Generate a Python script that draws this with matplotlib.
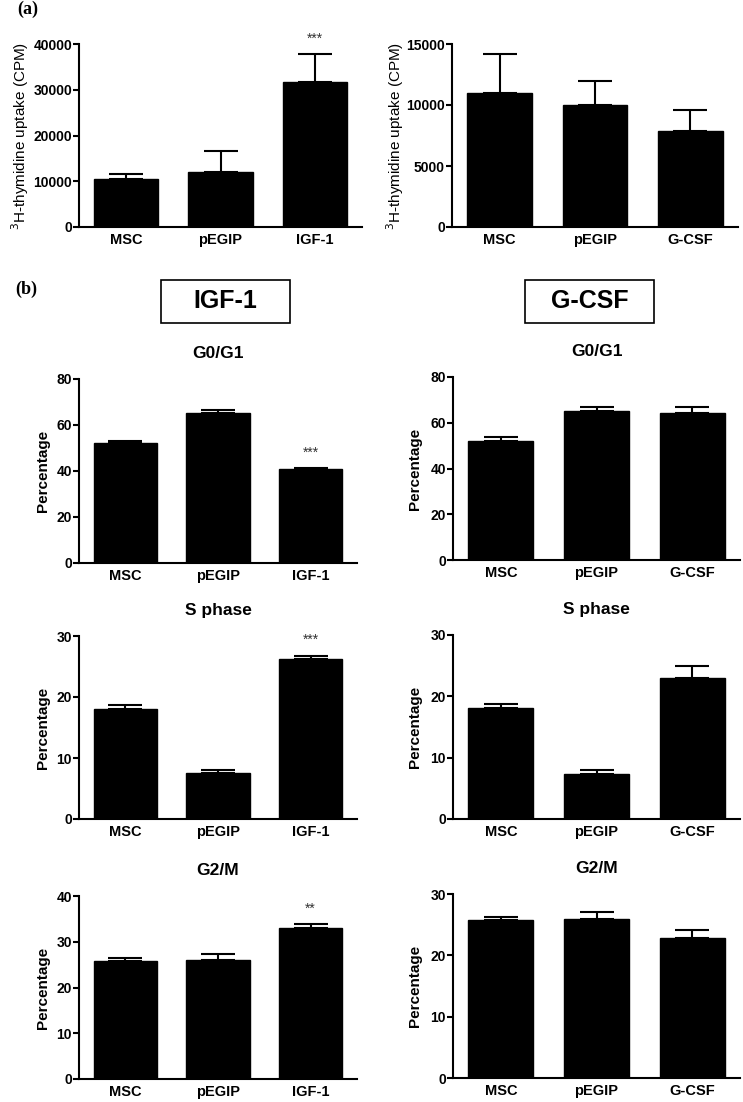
import numpy as np
import matplotlib
matplotlib.use('Agg')
import matplotlib.pyplot as plt
from matplotlib.patches import Rectangle

plt.rcParams['font.family'] = ['Liberation Sans', 'DejaVu Sans']

W, H = 743, 1102

# groups
groups_igf = ['MSC', 'pEGIP', 'IGF-1']
groups_gcsf = ['MSC', 'pEGIP', 'G-CSF']

# (a) 3H-thymidine uptake (CPM): mean and SD
cpm_igf = [10400, 12000, 31800]
cpm_igf_err = [1200, 4700, 6000]
cpm_gcsf = [10950, 9970, 7900]
cpm_gcsf_err = [3250, 2020, 1700]

# (b) cell cycle percentages
g0g1_igf = [52.2, 65.2, 40.9]
g0g1_igf_err = [0.8, 1.5, 0.5]
g0g1_gcsf = [52.1, 65.2, 64.4]
g0g1_gcsf_err = [1.5, 1.9, 2.3]

s_igf = [18.1, 7.5, 26.3]
s_igf_err = [0.6, 0.6, 0.5]
s_gcsf = [18.1, 7.4, 23.0]
s_gcsf_err = [0.6, 0.6, 1.9]

g2m_igf = [25.7, 26.0, 33.0]
g2m_igf_err = [0.7, 1.3, 0.8]
g2m_gcsf = [25.7, 26.0, 22.8]
g2m_gcsf_err = [0.6, 1.1, 1.4]

fig = plt.figure(figsize=(W / 100, H / 100), dpi=100)


def add_ax(l, t, r, b):
    return fig.add_axes([l / W, 1 - b / H, (r - l) / W, (b - t) / H])


def draw(ax, labels, vals, errs, ymax, ystep, title=None,
         ylabel='Percentage', ylab_x=None, stars=None, box=None):
    x = np.arange(len(vals))
    ax.bar(x, vals, width=0.68, color='black', edgecolor='black')
    ax.errorbar(x, vals, yerr=[np.zeros(len(errs)), errs], fmt='none',
                ecolor='black', elinewidth=1.5, capsize=12, capthick=1.5)
    ax.set_xlim(-0.5, 2.5)
    ax.set_ylim(0, ymax)
    ax.set_yticks(np.arange(0, ymax + 1, ystep))
    ax.set_xticks(x)
    ax.set_xticklabels(labels, fontweight='bold', fontsize=10.5)
    for lab in ax.get_yticklabels():
        lab.set_fontweight('bold')
        lab.set_fontsize(10)
    ax.tick_params(axis='x', length=0, pad=4)
    ax.tick_params(axis='y', length=4, width=1.5, pad=1)
    for s in ['top', 'right']:
        ax.spines[s].set_visible(False)
    for s in ['left', 'bottom']:
        ax.spines[s].set_linewidth(1.5)
    if ylabel == 'Percentage':
        ax.set_ylabel(ylabel, fontweight='bold', fontsize=11, va='center')
    else:
        ax.set_ylabel(ylabel, fontsize=11, va='center')
    if ylab_x is not None:
        l = box[0]
        ax.yaxis.set_label_coords((ylab_x - l) / (box[2] - l), 0.5)
    if title:
        ax.set_title(title, fontweight='bold', fontsize=12.5, pad=15)
    if stars:
        for i, st in stars.items():
            ax.annotate(st, (x[i], vals[i] + errs[i]), xytext=(0, 6),
                        textcoords='offset points', ha='center', va='bottom',
                        fontsize=10, color='#333333')


panels = [
    ((79, 44, 362, 227), groups_igf, cpm_igf, cpm_igf_err, 40000, 10000, None,
     '$^{3}$H-thymidine uptake (CPM)', 20, {2: '***'}),
    ((452, 44, 738, 227), groups_gcsf, cpm_gcsf, cpm_gcsf_err, 15000, 5000, None,
     '$^{3}$H-thymidine uptake (CPM)', 395, None),
    ((79, 379, 357, 563), groups_igf, g0g1_igf, g0g1_igf_err, 80, 20, 'G0/G1',
     'Percentage', 43, {2: '***'}),
    ((453, 377, 740, 560), groups_gcsf, g0g1_gcsf, g0g1_gcsf_err, 80, 20, 'G0/G1',
     'Percentage', 415, None),
    ((79, 636, 357, 819), groups_igf, s_igf, s_igf_err, 30, 10, 'S phase',
     'Percentage', 43, {2: '***'}),
    ((453, 635, 740, 819), groups_gcsf, s_gcsf, s_gcsf_err, 30, 10, 'S phase',
     'Percentage', 415, None),
    ((79, 896, 357, 1079), groups_igf, g2m_igf, g2m_igf_err, 40, 10, 'G2/M',
     'Percentage', 43, {2: '**'}),
    ((453, 894, 740, 1078), groups_gcsf, g2m_gcsf, g2m_gcsf_err, 30, 10, 'G2/M',
     'Percentage', 415, None),
]

for box, labels, vals, errs, ymax, ystep, title, ylabel, ylx, stars in panels:
    ax = add_ax(*box)
    draw(ax, labels, vals, errs, ymax, ystep, title=title, ylabel=ylabel,
         ylab_x=ylx, stars=stars, box=box)

# panel letters
fig.text(17 / W, 1 - 9 / H, '(a)', family='Liberation Serif', fontweight='bold',
         fontsize=13, va='center', ha='left')
fig.text(15 / W, 1 - 289 / H, '(b)', family='Liberation Serif', fontweight='bold',
         fontsize=13, va='center', ha='left')

# boxed headers
for (l, t, r, b), txt in [((161, 280, 290, 323), 'IGF-1'),
                          ((525, 280, 654, 323), 'G-CSF')]:
    fig.patches.append(Rectangle((l / W, 1 - b / H), (r - l) / W, (b - t) / H,
                                 transform=fig.transFigure, fill=False,
                                 edgecolor='black', linewidth=1.2))
    fig.text((l + r) / 2 / W, 1 - (t + b) / 2 / H, txt, fontweight='bold',
             fontsize=18, ha='center', va='center')

fig.savefig('out.png', dpi=100)
